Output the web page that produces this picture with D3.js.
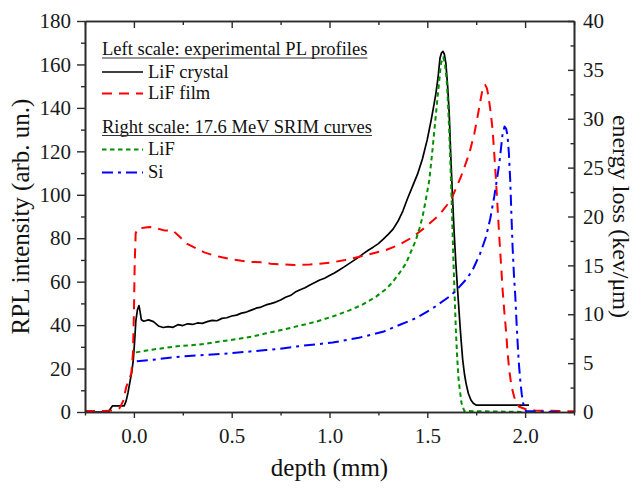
<!DOCTYPE html>
<html>
<head>
<meta charset="utf-8">
<script src="https://cdn.jsdelivr.net/npm/d3@7"></script>
<style>
  html, body { margin: 0; padding: 0; background: #fff; }
  svg { display: block; font-family: "Liberation Serif", "Times New Roman", serif; }
</style>
</head>
<body>
<svg id="chart" width="634" height="488"></svg>
<script>
// ---------- data (depth in mm) ----------
const crystalDepth = [-0.25,-0.13,-0.12,-0.11,-0.05,-0.04,-0.03,-0.02,-0.01,-0.003,0.004,0.01,0.018,0.026,0.032,0.038,
  0.050,0.075,0.100,0.125,0.150,0.175,0.200,0.225,0.250,0.275,0.300,0.325,0.350,0.375,0.400,0.425,0.450,0.475,0.500,
  0.525,0.550,0.575,0.600,0.625,0.650,0.675,0.700,0.725,0.750,0.775,0.800,0.825,0.850,0.875,0.900,0.925,0.950,0.975,
  1.000,1.025,1.050,1.075,1.100,1.125,1.150,1.175,1.200,1.225,1.250,1.275,1.300,1.325,1.350,1.375,1.400,1.425,1.450,
  1.475,1.500,1.520,1.535,1.544,1.555,1.565,1.572,1.580,1.587,1.595,1.604,1.612,1.620,1.629,1.637,1.646,1.655,1.663,
  1.672,1.681,1.690,1.698,1.710,1.723,1.735,1.749,2.020];
const crystalPL = [0,0,1.5,2.8,2.8,5,9,14,19,24,33,42,47,49,46,42.5,
  41.8,42.4,41.6,39.6,38.9,39.3,39.0,40.2,39.8,40.6,40.3,41.0,40.8,41.6,42.2,42.0,43.1,43.4,44.2,
  44.6,45.5,46.0,46.9,47.8,48.3,49.3,49.9,50.6,51.6,52.8,53.6,55.2,56.3,57.2,58.5,59.6,60.8,61.6,
  62.8,64.0,65.4,66.8,68.3,69.8,71.3,73.0,74.6,76.0,77.5,79.6,81.8,84.2,87.8,92.5,98.5,104,109.5,
  116.5,125.5,134.5,142,146.7,154,163,165.2,166,164.8,160.5,150,137.5,118,99,83,68.5,56,45.4,
  34,24,17.5,13.2,8.5,5.5,4.0,3.2,3.2];

const filmDepth = [-0.25,-0.15,-0.10,-0.073,-0.055,-0.039,-0.025,-0.013,-0.005,0.0,0.004,0.009,0.02,0.05,0.08,0.12,0.16,
  0.20,0.23,0.27,0.32,0.36,0.40,0.45,0.50,0.55,0.60,0.65,0.70,0.75,0.82,0.90,0.95,1.016,1.08,1.153,1.22,1.289,1.357,
  1.425,1.493,1.561,1.621,1.672,1.715,1.740,1.757,1.772,1.782,1.796,1.805,1.813,1.824,1.834,1.843,1.851,1.860,1.868,
  1.877,1.885,1.894,1.902,1.910,1.919,1.930,1.944,1.957,1.970,2.012,2.050,2.250];
const filmPL = [0.5,0.5,0.8,1.8,5,11.6,15,17.8,27,45,68,82.3,84.5,84.8,85.2,84.5,83.5,
  83.5,81,77.5,75.3,73.5,72.3,71.2,70.3,69.6,69.1,68.9,68.3,68.0,67.7,67.9,68.3,68.9,70,71.5,73,74.6,77,
  80.5,85.3,90.7,97.6,108.3,119.1,128,136,143.5,148.3,150.6,149,145.2,138,129.8,118,106.8,93,80.7,
  68,56.2,46,37.8,28,19.3,12,7,4,2.4,1,0.7,0.3];

const lifDepth = [0.01,0.10,0.233,0.336,0.489,0.60,0.676,0.80,0.932,1.02,1.102,1.17,1.238,1.29,1.323,1.357,1.391,
  1.425,1.442,1.46,1.476,1.495,1.510,1.525,1.536,1.553,1.570,1.582,1.590,1.599,1.606,1.612,1.618,1.624,1.634,1.646,
  1.653,1.660,1.675,1.689,2.00];
const lifLoss = [6.1,6.4,6.75,6.9,7.35,7.7,8.05,8.6,9.24,9.8,10.4,11.0,11.8,12.6,13.3,14.2,15.2,
  16.8,17.6,18.8,20,22,23.7,26.5,28.8,32.3,35.7,36.3,35.6,34,31.5,28.8,25.5,22,15.2,8.4,
  5.5,3.3,0.9,0.1,0];

const siDepth = [0.015,0.10,0.233,0.336,0.489,0.676,0.744,0.85,1.016,1.15,1.273,1.357,1.442,1.527,1.612,1.646,1.70,
  1.731,1.77,1.800,1.822,1.842,1.856,1.868,1.878,1.885,1.895,1.903,1.910,1.917,1.924,1.930,1.936,1.943,1.950,1.956,
  1.962,1.968,1.975,1.983,1.990,2.004,2.17];
const siLoss = [5.2,5.35,5.66,5.8,6.0,6.34,6.45,6.75,7.1,7.6,8.2,8.9,9.6,10.6,11.8,12.4,13.6,
  14.5,16.2,17.9,19.8,22,23.8,25.4,27.2,28.5,29.2,29.0,28.3,26.5,23.7,20.2,16.9,14,11.8,9.3,
  7.0,5.0,3.3,1.8,0.9,0.1,0];

const xMajorTicks = [0, 0.5, 1.0, 1.5, 2.0];
const xMinorTicks = [-0.25, 0.25, 0.75, 1.25, 1.75, 2.25];
const yLeftMajorTicks = [0, 20, 40, 60, 80, 100, 120, 140, 160, 180];
const yLeftMinorTicks = [10, 30, 50, 70, 90, 110, 130, 150, 170];
const yRightMajorTicks = [0, 5, 10, 15, 20, 25, 30, 35, 40];
const yRightMinorTicks = [2.5, 7.5, 12.5, 17.5, 22.5, 27.5, 32.5, 37.5];

const legendHeadings = ["Left scale: experimental PL profiles", "Right scale: 17.6 MeV SRIM curves"];
const legendLabels = ["LiF crystal", "LiF film", "LiF", "Si"];

// ---------- layout ----------
const L = 85, R = 574, T = 21, B = 412;
const svg = d3.select("#chart");
const x = d3.scaleLinear().domain([-0.25, 2.25]).range([L, R]);
const yL = d3.scaleLinear().domain([0, 180]).range([B, T]);
const yR = d3.scaleLinear().domain([0, 40]).range([B, T]);

const axisColor = "#2b2b2b";
const tickFont = 21;

svg.append("defs").append("clipPath").attr("id", "plotclip")
  .append("rect").attr("x", L).attr("y", T - 2).attr("width", R - L).attr("height", B - T + 2);

// ---------- curves ----------
const series = [
  {dx: crystalDepth, vy: crystalPL, y: yL, color: "#000000", dash: null, w: 1.7},
  {dx: filmDepth, vy: filmPL, y: yL, color: "#ff0000", dash: "10,7", w: 2},
  {dx: lifDepth, vy: lifLoss, y: yR, color: "#009000", dash: "4.5,3.5", w: 2},
  {dx: siDepth, vy: siLoss, y: yR, color: "#0000ff", dash: "11,5,3,5", w: 2}
];
const gCurves = svg.append("g").attr("clip-path", "url(#plotclip)");
series.forEach(s => {
  const pts = s.dx.map((d, i) => [d, s.vy[i]]);
  const line = d3.line().x(d => x(d[0])).y(d => s.y(d[1]));
  gCurves.append("path").attr("d", line(pts))
    .attr("fill", "none").attr("stroke", s.color).attr("stroke-width", s.w)
    .attr("stroke-linejoin", "round")
    .attr("stroke-dasharray", s.dash);
});

// ---------- axes ----------
function styleAxis(g) {
  g.selectAll("path.domain").attr("stroke", axisColor).attr("stroke-width", 1.6);
  g.selectAll(".tick line").attr("stroke", axisColor).attr("stroke-width", 1.4);
  g.selectAll(".tick text").attr("fill", "#1a1a1a").style("font-size", tickFont + "px")
    .style("font-family", '"Liberation Serif", "Times New Roman", serif');
}
// bottom
svg.append("g").attr("transform", `translate(0,${B})`)
  .call(d3.axisBottom(x).tickValues(xMajorTicks).tickSize(6).tickSizeOuter(0).tickPadding(10)
    .tickFormat(d3.format(".1f"))).call(styleAxis);
svg.append("g").attr("transform", `translate(0,${B})`)
  .call(d3.axisBottom(x).tickValues(xMinorTicks).tickSize(3.5).tickSizeOuter(0).tickFormat(""))
  .call(styleAxis);
// top (inward)
svg.append("g").attr("transform", `translate(0,${T})`)
  .call(d3.axisTop(x).tickValues(xMajorTicks).tickSize(-7).tickSizeOuter(0).tickFormat("")).call(styleAxis);
svg.append("g").attr("transform", `translate(0,${T})`)
  .call(d3.axisTop(x).tickValues(xMinorTicks).tickSize(-4).tickSizeOuter(0).tickFormat("")).call(styleAxis);
// left
svg.append("g").attr("transform", `translate(${L},0)`)
  .call(d3.axisLeft(yL).tickValues(yLeftMajorTicks).tickSize(8).tickSizeOuter(0).tickPadding(6)
    .tickFormat(d3.format("d"))).call(styleAxis);
svg.append("g").attr("transform", `translate(${L},0)`)
  .call(d3.axisLeft(yL).tickValues(yLeftMinorTicks).tickSize(4).tickSizeOuter(0).tickFormat(""))
  .call(styleAxis);
// right (inward ticks)
svg.append("g").attr("transform", `translate(${R},0)`)
  .call(d3.axisRight(yR).tickValues(yRightMajorTicks).tickSize(-6).tickSizeOuter(0).tickPadding(9)
    .tickFormat(d3.format("d"))).call(styleAxis);
svg.append("g").attr("transform", `translate(${R},0)`)
  .call(d3.axisRight(yR).tickValues(yRightMinorTicks).tickSize(-3.5).tickSizeOuter(0).tickFormat(""))
  .call(styleAxis);

// ---------- axis titles ----------
svg.append("text").attr("transform", `translate(29,${(T + B) / 2}) rotate(-90)`)
  .attr("text-anchor", "middle").style("font-size", "25px").attr("fill", "#111")
  .text("RPL intensity (arb. un.)");
svg.append("text").attr("transform", `translate(613,${(T + B) / 2}) rotate(90)`)
  .attr("text-anchor", "middle").style("font-size", "24px").attr("fill", "#111")
  .text("energy loss (kev/μm)");
svg.append("text").attr("x", (L + R) / 2).attr("y", 476)
  .attr("text-anchor", "middle").style("font-size", "25px").attr("fill", "#111")
  .text("depth (mm)");

// ---------- legend ----------
const lg = svg.append("g").style("font-size", "18.5px").attr("fill", "#111");
const lx0 = 102, lx1 = 143, tx = 148;
const headY = [55, 132.5];
headY.forEach((yy, i) => {
  const t = lg.append("text").attr("x", lx0).attr("y", yy).text(legendHeadings[i]);
  const w = t.node().getComputedTextLength();
  lg.append("line").attr("x1", lx0).attr("x2", lx0 + w).attr("y1", yy + 3).attr("y2", yy + 3)
    .attr("stroke", "#333").attr("stroke-width", 1.1);
});
const entryY = [72, 93.5, 149.5, 172.5];
series.forEach((s, i) => {
  lg.append("line").attr("x1", lx0).attr("x2", lx1).attr("y1", entryY[i]).attr("y2", entryY[i])
    .attr("stroke", s.color).attr("stroke-width", s.w).attr("stroke-dasharray", s.dash);
  lg.append("text").attr("x", tx).attr("y", entryY[i] + 5.5).text(legendLabels[i]);
});
</script>
</body>
</html>
